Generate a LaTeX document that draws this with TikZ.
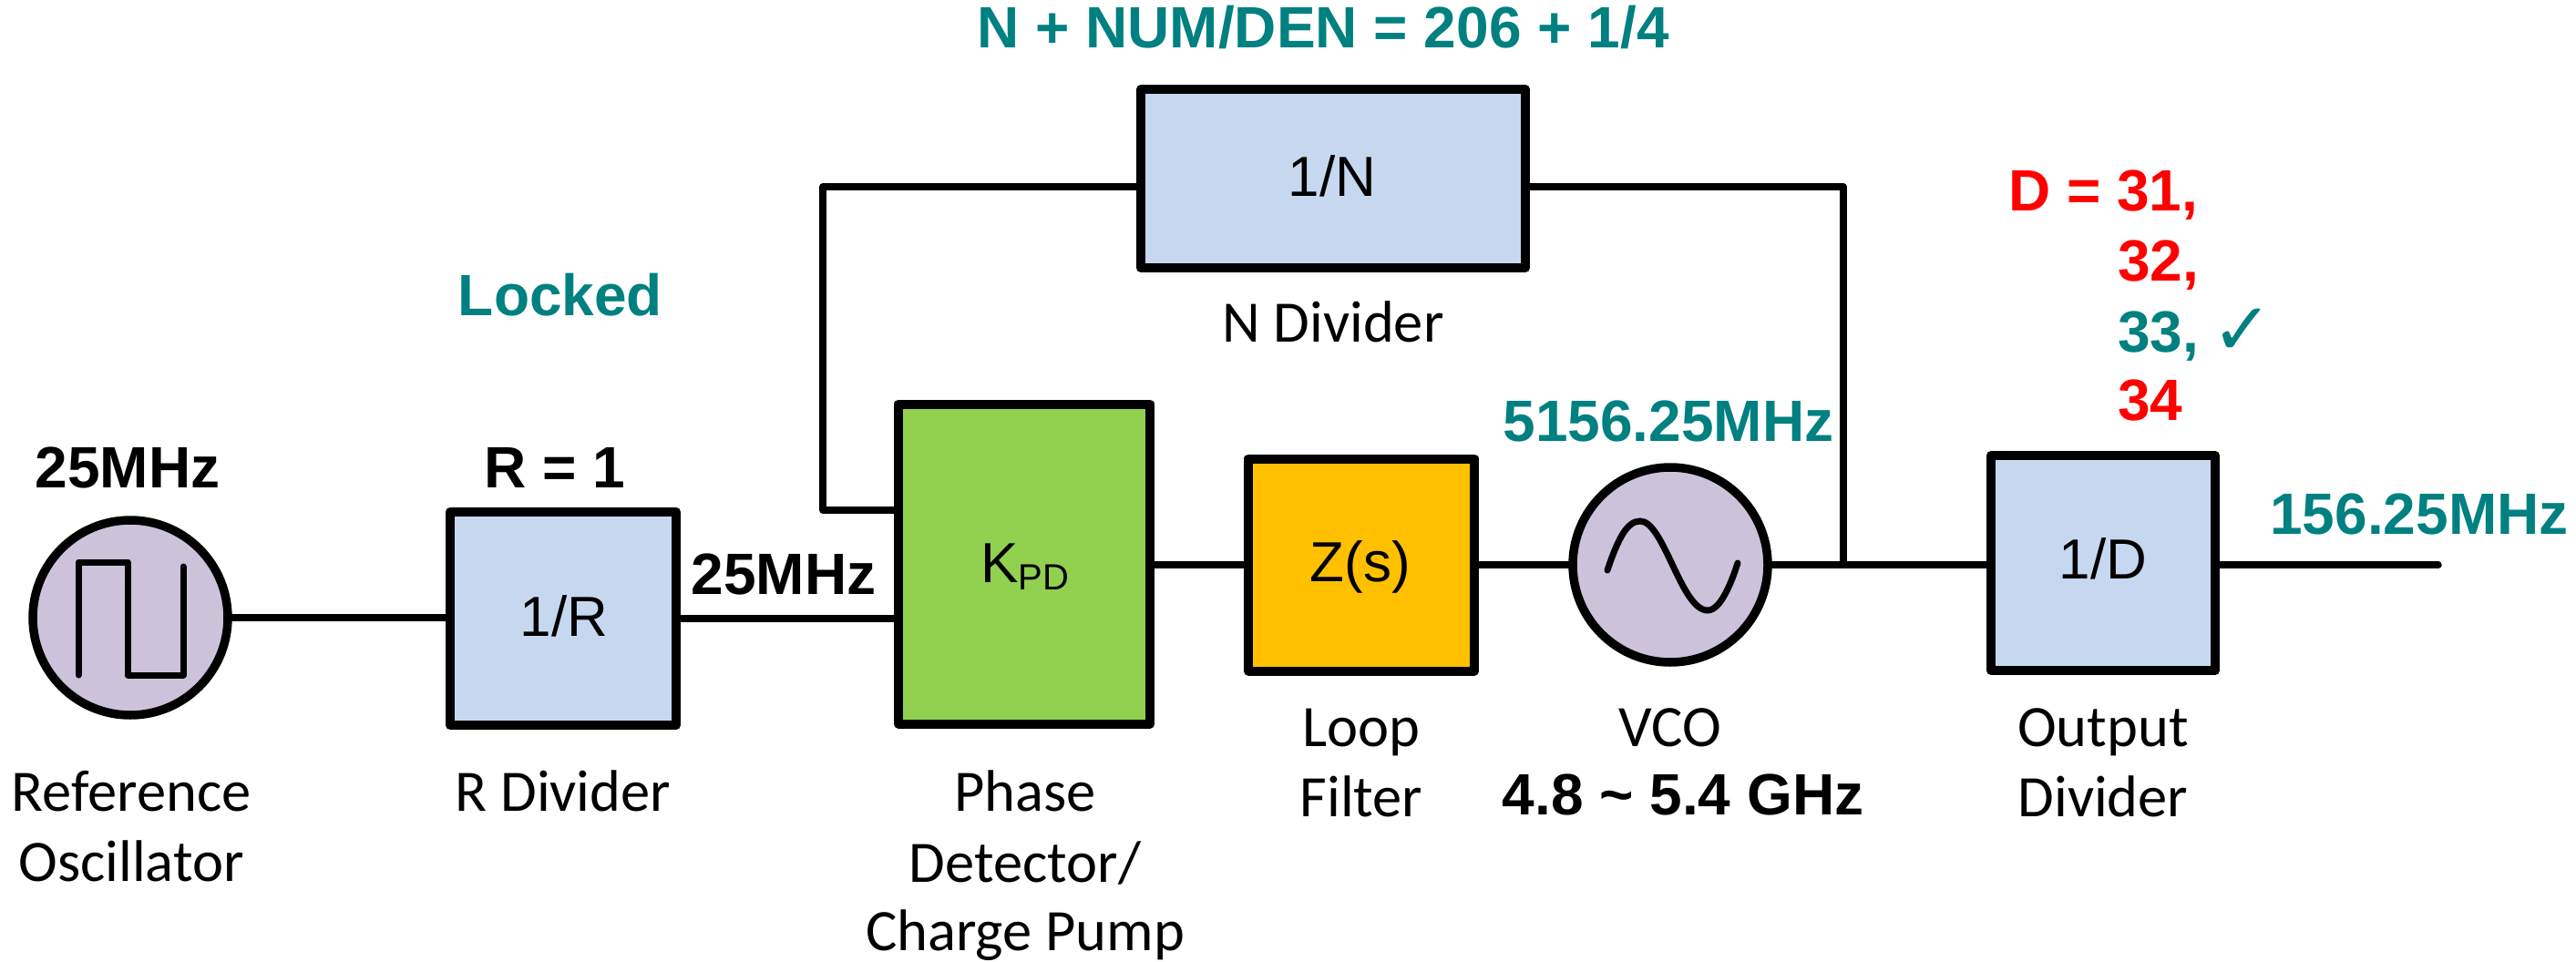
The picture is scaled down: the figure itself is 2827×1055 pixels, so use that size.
\documentclass[tikz,border=0pt]{standalone}
\usepackage{fontspec}
\setmainfont{Liberation Sans}
\newfontfamily\capfont{Carlito}
\newfontfamily\symfont{DejaVu Sans}
\definecolor{tealc}{RGB}{0,128,128}
\definecolor{redc}{RGB}{255,0,0}
\definecolor{blueb}{RGB}{198,216,240}
\definecolor{purpb}{RGB}{204,194,218}
\definecolor{greenb}{RGB}{146,208,80}
\definecolor{orangeb}{RGB}{255,192,0}
\tikzset{
 x=1pt,y=-1pt,
 wire/.style={draw=black,line width=7.5pt,line cap=round,line join=round},
 blk/.style={draw=black,line width=10pt,line join=round,inner sep=0pt},
 circ/.style={draw=black,line width=9.5pt,circle,fill=purpb,minimum size=214pt,inner sep=0pt},
 bt/.style={font=\fontsize{64}{64}\selectfont\bfseries,inner sep=0pt,anchor=base},
 ct/.style={font=\fontsize{64.5}{77}\selectfont\capfont,inner sep=0pt,align=center,anchor=base},
 rt/.style={font=\fontsize{62}{62}\selectfont,inner sep=0pt,anchor=base},
}
\begin{document}
\begin{tikzpicture}
\useasboundingbox (0,0) rectangle (2827,1055);
\node[circ] (osc) at (143,678) {};
\node[blk,minimum width=248pt,minimum height=234pt,fill=blueb] (rdiv) at (618,679) {};
\node[blk,minimum width=276pt,minimum height=351pt,fill=greenb] (pd) at (1124,619) {};
\node[blk,minimum width=248pt,minimum height=233pt,fill=orangeb] (lf) at (1494,620) {};
\node[circ] (vco) at (1833,620) {};
\node[blk,minimum width=246pt,minimum height=236pt,fill=blueb] (ddiv) at (2308,618) {};
\node[blk,minimum width=422pt,minimum height=196pt,fill=blueb] (ndiv) at (1463,196) {};
\coordinate (j) at (2023,620);
\coordinate (out) at (2676,620);
\coordinate (ntr) at (2023,205);
\coordinate (ntl) at (903,205);
\coordinate (pdl) at (903,560);
\draw[wire] (osc.east) -- (osc.east -| rdiv.west);
\draw[wire] (rdiv.east) -- (rdiv.east -| pd.west);
\draw[wire] (pd.east |- lf.west) -- (lf.west);
\draw[wire] (lf.east) -- (vco.west);
\draw[wire] (vco.east) -- (j |- vco.east) -- (ddiv.west |- vco.east);
\draw[wire] (ddiv.east |- out) -- (out);
\draw[wire] (j) -- (ntr) -- (ntr -| ndiv.east);
\draw[wire] (ntl -| ndiv.west) -- (ntl) -- (pdl) -- (pdl -| pd.west);
% waveforms
\draw[line width=7pt,line cap=round,line join=round] (86,741) -- (86,617) -- (140,617) -- (140,741) -- (201,741) -- (201,622);
\draw[line width=7pt,line cap=round] (1764,626) .. controls (1776,590) and (1786,572) .. (1800,572) .. controls (1826,572) and (1845,670) .. (1874,670) .. controls (1888,670) and (1900,640) .. (1907,618);
% box text
\node[rt] (t1) at (619,698) {1/R};
\node[rt] (t2) at (1125,639) {K\raisebox{-8pt}{\fontsize{40}{40}\selectfont PD}};
\node[rt] (t3) at (1493,638) {Z(s)};
\node[rt] (t4) at (2308,635) {1/D};
\node[rt] (t5) at (1462,215) {1/N};
% bold
\node[bt] (a) at (140,535) {25MHz};
\node[bt] (b) at (609,535) {R = 1};
\node[bt] (c) at (860,652) {25MHz};
\node[bt,text=tealc] (d) at (1452,52) {N + NUM/DEN = 206 + 1/4};
\node[bt,text=tealc] (e) at (615,346) {Locked};
\node[bt,text=tealc] (f) at (1831,484) {5156.25MHz};
\node[bt,text=tealc] (g) at (2655,586) {156.25MHz};
\node[bt] (h) at (1847,894) {4.8 \textasciitilde{} 5.4 GHz};
\node[bt,text=redc,anchor=base west] (i) at (2204,231) {D = 31,};
\node[bt,text=redc,anchor=base west] (k) at (2324,308) {32,};
\node[bt,text=tealc,anchor=base west] (l) at (2324,386) {33,};
\node[bt,text=redc,anchor=base west] (m) at (2324,461) {34};
\node[text=tealc,font=\fontsize{80}{80}\selectfont\symfont,inner sep=0pt,anchor=base] (n) at (2461,389) {✓};
% captions
\node[ct] (o) at (144,890) {Reference};
\node[ct] (o2) at (144,967) {Oscillator};
\node[ct] (q) at (618,890) {R Divider};
\node[ct] (r) at (1125,890) {Phase};
\node[ct] (r2) at (1125,968) {Detector/};
\node[ct] (r3) at (1125,1043) {Charge Pump};
\node[ct] (s) at (1494,819) {Loop};
\node[ct] (s2) at (1494,896) {Filter};
\node[ct] (u) at (1833,819) {VCO};
\node[ct] (v) at (2308,819) {Output};
\node[ct] (v2) at (2308,896) {Divider};
\node[ct] (w) at (1463,375) {N Divider};
\end{tikzpicture}
\end{document}
